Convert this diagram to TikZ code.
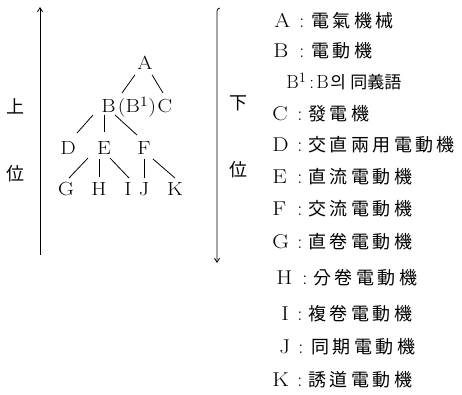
\documentclass[tikz,border=0pt]{standalone}
\usepackage{fontspec}
\newfontfamily\cjk{Noto Sans CJK KR}[LetterSpace=19]
\newfontfamily\cjkplain{Noto Sans CJK KR}
\newcommand\stretchtxt[1]{\scalebox{1.15}[1]{#1}}
\usetikzlibrary{arrows.meta}
\begin{document}
\begin{tikzpicture}[x=1pt,y=-1pt,line width=0.8pt,
  tl/.style={font=\fontsize{19}{19}\selectfont,inner sep=0pt,anchor=base},
  ll/.style={font=\fontsize{20}{20}\selectfont,inner sep=0pt,anchor=base west},
  lsm/.style={font=\fontsize{19}{19}\selectfont,inner sep=0pt,anchor=base west},
  cl/.style={font=\fontsize{18}{18}\selectfont\cjk,inner sep=0pt,anchor=base west},
  cn/.style={font=\fontsize{17}{17}\selectfont\cjkplain,inner sep=0pt,anchor=base west},
  side/.style={font=\fontsize{18}{18}\selectfont\cjkplain,inner sep=0pt,anchor=base},
  conn/.style={line width=0.8pt},
  tip/.style={-{Straight Barb[length=4pt,width=5pt]}}]
\useasboundingbox (0,0) rectangle (462,394);

% vertical axes
\coordinate (lt) at (40,7);
\coordinate (lb) at (40,255);
\draw[tip] (lb) -- (lt);
\coordinate (rh) at (220,8);
\coordinate (rt) at (217,11);
\coordinate (rb) at (217,263);
\draw[tip] (rh) to[out=180,in=90] (rt) -- (rb);

% side labels
\node[side] (su) at (15,113.5) {上};
\node[side] (sw) at (15,180.5) {位};
\node[side] (sd) at (238,109.5) {下};
\node[side] (sw2) at (238,176.5) {位};

% tree
\node[tl] (A) at (145,69.5) {\stretchtxt{A}};
\node[tl] (B) at (108.5,112.5) {\stretchtxt{B}};
\node[tl] (B1) at (137,112.5) {\stretchtxt{(B$^{1}$)}};
\node[tl] (C) at (165,112.5) {\stretchtxt{C}};
\node[tl] (D) at (68,154.5) {\stretchtxt{D}};
\node[tl] (E) at (104,154.5) {\stretchtxt{E}};
\node[tl] (F) at (144,154.5) {\stretchtxt{F}};
\node[tl] (G) at (66,195.5) {\stretchtxt{G}};
\node[tl] (H) at (99,195.5) {\stretchtxt{H}};
\node[tl] (I) at (128,195.5) {\stretchtxt{I}};
\node[tl] (J) at (144,195.5) {\stretchtxt{J}};
\node[tl] (K) at (175,195.5) {\stretchtxt{K}};

\draw[conn] ([shift={(-10,12)}]A.center) -- ([shift={(13.5,-13)}]B.center);
\draw[conn] ([shift={(7,12)}]A.center) -- ([shift={(-2,-13)}]C.center);
\draw[conn] ([shift={(-15.5,9)}]B.center) -- ([shift={(9,-15)}]D.center);
\draw[conn] ([shift={(-4.5,9)}]B.center) -- ([shift={(0,-16)}]E.center);
\draw[conn] ([shift={(6.5,9)}]B.center) -- ([shift={(-7,-13)}]F.center);
\draw[conn] ([shift={(-16,10)}]E.center) -- ([shift={(3,-11)}]G.center);
\draw[conn] ([shift={(-5,11)}]E.center) -- ([shift={(0,-12)}]H.center);
\draw[conn] ([shift={(6,10)}]E.center) -- ([shift={(1,-11)}]I.center);
\draw[conn] ([shift={(0,11)}]F.center) -- ([shift={(0,-11)}]J.center);
\draw[conn] ([shift={(9,11)}]F.center) -- ([shift={(0,-11)}]K.center);

% legend
\node[ll] (la) at (274,27.5) {\stretchtxt{A}};
\node[ll] (ca) at (299,27.5) {:};
\node[cl] (ta) at (311,27.5) {電氣機械};

\node[ll] (lbb) at (273,57.5) {\stretchtxt{B}};
\node[ll] (cb) at (299,57.5) {:};
\node[cl] (tb) at (311,57.5) {電動機};

\node[lsm] (lb1) at (286,88.5) {B$^{1}$};
\node[lsm] (cb1) at (309,88.5) {:};
\node[lsm] (bb) at (316,88.5) {B};
\node[cn] (ui) at (330,88.5) {의};
\node[cn] (tb1) at (350,88.5) {同義語};

\node[ll] (lc) at (272,120.5) {\stretchtxt{C}};
\node[ll] (cc) at (297,120.5) {:};
\node[cl] (tc) at (308,120.5) {發電機};

\node[ll] (ld) at (272,151.5) {\stretchtxt{D}};
\node[ll] (cd) at (297,151.5) {:};
\node[cl] (td) at (308,151.5) {交直兩用電動機};

\node[ll] (le) at (272,183.5) {\stretchtxt{E}};
\node[ll] (ce) at (297,183.5) {:};
\node[cl] (te) at (308,183.5) {直流電動機};

\node[ll] (lf) at (272,215.5) {\stretchtxt{F}};
\node[ll] (cf) at (297,215.5) {:};
\node[cl] (tf) at (308,215.5) {交流電動機};

\node[ll] (lg) at (272,248.5) {\stretchtxt{G}};
\node[ll] (cg) at (297,248.5) {:};
\node[cl] (tg) at (308,248.5) {直卷電動機};

\node[ll] (lh) at (276,284.5) {\stretchtxt{H}};
\node[ll] (ch) at (302,284.5) {:};
\node[cl] (th) at (313,284.5) {分卷電動機};

\node[ll] (li) at (281,320.5) {\stretchtxt{I}};
\node[ll] (ci) at (297,320.5) {:};
\node[cl] (ti) at (308,320.5) {複卷電動機};

\node[ll] (lj) at (279,353.5) {\stretchtxt{J}};
\node[ll] (cj) at (298,353.5) {:};
\node[cl] (tj) at (311,353.5) {同期電動機};

\node[ll] (lk) at (272,386.5) {\stretchtxt{K}};
\node[ll] (ck) at (297,386.5) {:};
\node[cl] (tk) at (308,386.5) {誘道電動機};
\end{tikzpicture}
\end{document}
